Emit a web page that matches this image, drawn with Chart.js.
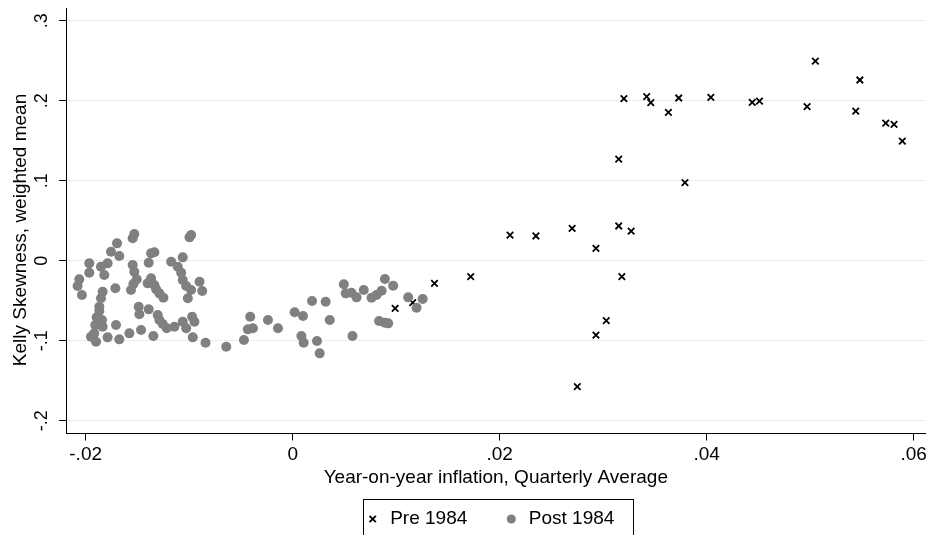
<!DOCTYPE html>
<html>
<head>
<meta charset="utf-8">
<script src="https://cdn.jsdelivr.net/npm/chart.js@4/dist/chart.umd.min.js"></script>
<style>
  html, body { margin: 0; padding: 0; background: #fff; }
  #wrap { width: 932px; height: 535px; }
</style>
</head>
<body>
<div id="wrap"><canvas id="myChart" width="932" height="535"></canvas></div>
<script>
// tick labels
const xTicks = [-0.02, 0, 0.02, 0.04, 0.06];
const yTicks = [-0.2, -0.1, 0, 0.1, 0.2, 0.3];
const seriesNames = ['Pre 1984', 'Post 1984'];
const xTitle = 'Year-on-year inflation, Quarterly Average';
const yTitle = 'Kelly Skewness, weighted mean';

// Pre 1984 (x marks)
const preX = [0.0099, 0.0116, 0.0137, 0.0172, 0.0210, 0.0235, 0.0270, 0.0275, 0.0293, 0.0293,
              0.0303, 0.0315, 0.0318, 0.0327, 0.0315, 0.0320, 0.0342, 0.0346, 0.0363, 0.0373,
              0.0379, 0.0404, 0.0444, 0.0451, 0.0497, 0.0505, 0.0544, 0.0548, 0.0573, 0.0581,
              0.0589];
const preY = [-0.0596, -0.0525, -0.0283, -0.0200, 0.0321, 0.0309, 0.0405, -0.1575, 0.0155, -0.0929,
              -0.0750, 0.0434, -0.0200, 0.0371, 0.1271, 0.2025, 0.2050, 0.1975, 0.1855, 0.2034,
              0.0975, 0.2042, 0.1980, 0.1996, 0.1925, 0.2496, 0.1871, 0.2259, 0.1721, 0.1705,
              0.1496];

// Post 1984 (grey dots)
const postX = [-0.01530, -0.01546, -0.00981, -0.00997, -0.01697, -0.01755, -0.01675, -0.01368, -0.01336, -0.01391,
               -0.01965, -0.01965, -0.01852, -0.01788, -0.01820, -0.01546, -0.01530, -0.01507, -0.01174, -0.01062,
               -0.01110, -0.01077, -0.02062, -0.02078, -0.02036, -0.01713, -0.01836, -0.01852, -0.01868, -0.01562,
               -0.01539, -0.01401, -0.01368, -0.01336, -0.01319, -0.01288, -0.01249, -0.01062, -0.01029, -0.00981,
               -0.00900, -0.00874, -0.01013, -0.01488, -0.01481, -0.01391, -0.01868, -0.01894, -0.01842, -0.01836,
               -0.01907, -0.01917, -0.01949, -0.01900, -0.01707, -0.01788, -0.01675, -0.01578, -0.01465, -0.01346,
               -0.01304, -0.01288, -0.01255, -0.01217, -0.01142, -0.01062, -0.01029, -0.00971, -0.00949, -0.00965,
               -0.00842, -0.00642, -0.00471, -0.00410, -0.00433, -0.00384, -0.00239, -0.00142, 0.00019, 0.00100,
               0.00084, 0.00106, 0.00187, 0.00319, 0.00235, 0.00261, 0.00358, 0.00494, 0.00513, 0.00568,
               0.00617, 0.00687, 0.00762, 0.00810, 0.00859, 0.00891, 0.00971, 0.00578, 0.00835, 0.00891,
               0.00923, 0.01116, 0.01197, 0.01256];
const postY = [0.0334, 0.0280, 0.0321, 0.0292, 0.0217, 0.0113, 0.0059, 0.0092, 0.0105, -0.0025,
               -0.0033, -0.0150, -0.0075, -0.0033, -0.0179, -0.0054, -0.0138, -0.0233, -0.0013, 0.0042,
               -0.0075, -0.0150, -0.0233, -0.0316, -0.0429, -0.0345, -0.0388, -0.0470, -0.0575, -0.0366,
               -0.0291, -0.0283, -0.0220, -0.0304, -0.0358, -0.0408, -0.0463, -0.0241, -0.0316, -0.0366,
               -0.0262, -0.0379, -0.0470, -0.0575, -0.0670, -0.0608, -0.0625, -0.0708, -0.0741, -0.0825,
               -0.0804, -0.0908, -0.0950, -0.1012, -0.0804, -0.0958, -0.0983, -0.0908, -0.0866, -0.0941,
               -0.0679, -0.0741, -0.0791, -0.0845, -0.0825, -0.0762, -0.0845, -0.0700, -0.0762, -0.0958,
               -0.1025, -0.1075, -0.0991, -0.0700, -0.0858, -0.0845, -0.0741, -0.0845, -0.0645, -0.0691,
               -0.0941, -0.1025, -0.0504, -0.0513, -0.1004, -0.1158, -0.0741, -0.0295, -0.0408, -0.0400,
               -0.0458, -0.0366, -0.0463, -0.0429, -0.0375, -0.0229, -0.0313, -0.0941, -0.0754, -0.0775,
               -0.0783, -0.0458, -0.0588, -0.0479];


const FONT = '"Liberation Sans", Arial, sans-serif';
Chart.defaults.font.family = FONT;
Chart.defaults.color = '#000';

// Stata style numbers: .02 instead of 0.02
function stataNum(v) {
    return String(v).replace('0.', '.');
}

// legend placement (stata puts it in a box under the axis title)
const LEGEND_X0 = 364.7;
const LEGEND_MID = 519;

const stataExtras = {
    id: 'stataExtras',
    afterLayout(chart) {
        const lg = chart.legend;
        const p = lg.options.labels.padding;
        const lw = lg.lineWidths[0];
        lg.left = 2 * LEGEND_X0 - p - lg.right + lw;
        lg.top = LEGEND_MID - 9.5 - p;
        lg.bottom = chart.height;
    },
    afterDraw(chart) {
        const ctx = chart.ctx;
        const yScale = chart.scales.y;
        ctx.save();
        ctx.fillStyle = '#000';
        ctx.textAlign = 'center';
        ctx.textBaseline = 'middle';

        // rotated y tick labels
        ctx.font = '18px ' + FONT;
        yTicks.forEach(v => {
            ctx.save();
            ctx.translate(42.5, yScale.getPixelForValue(v));
            ctx.rotate(-Math.PI / 2);
            ctx.fillText(stataNum(v), 0, 0);
            ctx.restore();
        });

        // y axis title
        ctx.font = '19px ' + FONT;
        ctx.save();
        ctx.translate(20.3, 230);
        ctx.rotate(-Math.PI / 2);
        ctx.fillText(yTitle, 0, 0);
        ctx.restore();

        // legend frame
        const lg = chart.legend;
        const p = lg.options.labels.padding;
        const lw = lg.lineWidths[0];
        const left = Math.round(LEGEND_X0 - 2.2) + 0.5;
        const right = Math.round(LEGEND_X0 + lw - p + 19) + 0.5;
        const top = Math.round(LEGEND_MID - 19.7) + 0.5;
        ctx.strokeStyle = '#000';
        ctx.lineWidth = 1;
        ctx.strokeRect(left, top, right - left, chart.height + 10 - top);
        ctx.restore();
    }
};

const ctx = document.getElementById('myChart').getContext('2d');
const myChart = new Chart(ctx, {
    type: 'scatter',
    data: {
        datasets: [{
            label: seriesNames[0],
            data: preX.map((x, i) => ({ x: x, y: preY[i] })),
            pointStyle: 'crossRot',
            pointRadius: 4.6,
            pointBorderWidth: 1.8,
            pointBorderColor: '#000',
            pointBackgroundColor: '#000',
            order: 2
        }, {
            label: seriesNames[1],
            data: postX.map((x, i) => ({ x: x, y: postY[i] })),
            pointStyle: 'circle',
            pointRadius: 5,
            pointBorderWidth: 0,
            pointBorderColor: '#808080',
            pointBackgroundColor: '#808080',
            order: 1
        }]
    },
    options: {
        responsive: false,
        animation: false,
        events: [],
        layout: { padding: { left: 0, right: 3.5, top: 8, bottom: 0 } },
        scales: {
            x: {
                type: 'linear',
                min: -0.0219,
                max: 0.06115,
                afterBuildTicks: s => { s.ticks = xTicks.map(v => ({ value: v })); },
                afterFit: s => {
                    s.height = 535 - 433.5 - s.chart.legend.height;
                    // no extra room for the end labels, stata lets them hang over
                    s.paddingLeft = 0;
                    s.paddingRight = 0;
                },
                ticks: {
                    padding: 3,
                    font: { size: 19 },
                    color: '#000',
                    maxRotation: 0,
                    callback: v => stataNum(v)
                },
                grid: { drawOnChartArea: false, drawTicks: true, tickLength: 7, tickColor: '#000' },
                border: { display: true, color: '#000', width: 1 },
                title: {
                    display: true,
                    text: xTitle,
                    color: '#000',
                    font: { size: 19 },
                    padding: { top: 0, bottom: 25.6 }
                }
            },
            y: {
                type: 'linear',
                min: -0.216,
                max: 0.3159,
                afterBuildTicks: s => { s.ticks = yTicks.map(v => ({ value: v })); },
                afterFit: s => { s.width = 66; },
                ticks: { display: false },
                grid: { color: '#e6eef2', lineWidth: 1, drawTicks: true, tickLength: 7, tickColor: '#000' },
                border: { display: true, color: '#000', width: 1 }
            }
        },
        plugins: {
            tooltip: { enabled: false },
            legend: {
                position: 'bottom',
                maxHeight: 20,
                labels: {
                    usePointStyle: true,
                    boxWidth: 16,
                    boxHeight: 6.4,
                    padding: 36,
                    color: '#000',
                    font: { size: 19 },
                    sort: (a, b) => a.datasetIndex - b.datasetIndex
                }
            }
        }
    },
    plugins: [stataExtras]
});
</script>
</body>
</html>
